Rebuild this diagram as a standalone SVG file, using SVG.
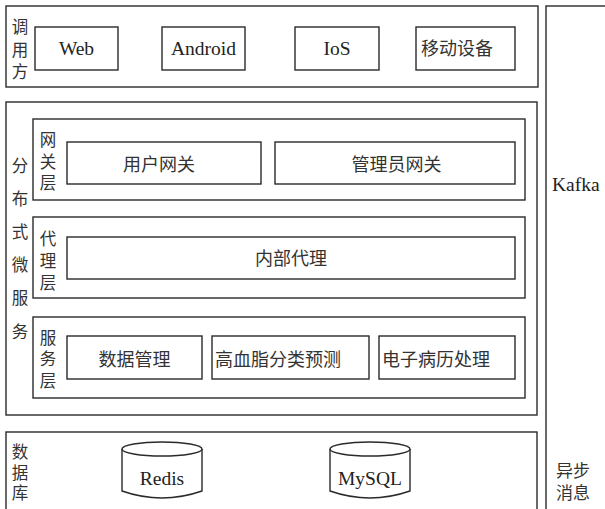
<svg xmlns="http://www.w3.org/2000/svg" width="605" height="509" viewBox="0 0 605 509">
<style>
rect, path, ellipse { fill: none; stroke: #2a2a2a; stroke-width: 1.4; }
.bg { fill: #ffffff; stroke: none; }
.lat { font-family: "Liberation Serif", "Times New Roman", serif; font-size: 19.5px; fill: #222; }
.cn { font-family: "Noto Sans CJK SC", "Noto Sans", sans-serif; font-size: 18px; fill: #333; }
.st { font-size: 16.5px; }
.c { text-anchor: middle; }
</style>
<rect class="bg" x="0" y="0" width="605" height="509"/>

<g id="caller">
  <rect x="6" y="6" width="532" height="81"/>
  <text class="cn st c" x="20" y="33">调</text>
  <text class="cn st c" x="20" y="56">用</text>
  <text class="cn st c" x="20" y="78">方</text>
</g>
<g id="web"><rect x="35" y="27" width="83" height="43"/><text class="lat c" x="76.5" y="55">Web</text></g>
<g id="android"><rect x="162" y="27" width="83" height="43"/><text class="lat c" x="203.5" y="55">Android</text></g>
<g id="ios"><rect x="295" y="27" width="84" height="43"/><text class="lat c" x="337" y="55">IoS</text></g>
<g id="mobile"><rect x="416" y="27" width="99" height="43"/><text class="cn" x="421" y="55">移动设备</text></g>

<g id="microservice">
  <rect x="6" y="102" width="531" height="313"/>
  <text class="cn st c" x="20" y="172">分</text>
  <text class="cn st c" x="20" y="205">布</text>
  <text class="cn st c" x="20" y="238">式</text>
  <text class="cn st c" x="20" y="271">微</text>
  <text class="cn st c" x="20" y="304">服</text>
  <text class="cn st c" x="20" y="338">务</text>
</g>

<g id="gateway-layer">
  <rect x="33" y="119" width="492" height="81"/>
  <text class="cn st c" x="48" y="146">网</text>
  <text class="cn st c" x="48" y="168">关</text>
  <text class="cn st c" x="48" y="189">层</text>
</g>
<g id="user-gateway"><rect x="67" y="142" width="194" height="42"/><text class="cn c" x="159" y="171">用户网关</text></g>
<g id="admin-gateway"><rect x="275" y="142" width="240" height="42"/><text class="cn c" x="396.5" y="171">管理员网关</text></g>

<g id="proxy-layer">
  <rect x="33" y="217" width="492" height="81"/>
  <text class="cn st c" x="48" y="245">代</text>
  <text class="cn st c" x="48" y="267">理</text>
  <text class="cn st c" x="48" y="289">层</text>
</g>
<g id="internal-proxy"><rect x="67" y="237" width="448" height="42"/><text class="cn c" x="291" y="265">内部代理</text></g>

<g id="service-layer">
  <rect x="33" y="317" width="492" height="81"/>
  <text class="cn st c" x="48" y="344">服</text>
  <text class="cn st c" x="48" y="365">务</text>
  <text class="cn st c" x="48" y="387">层</text>
</g>
<g id="data-mgmt"><rect x="67" y="336" width="135" height="43"/><text class="cn c" x="134.5" y="366">数据管理</text></g>
<g id="prediction"><rect x="212" y="336" width="157" height="43"/><text class="cn" x="215" y="366">高血脂分类预测</text></g>
<g id="emr"><rect x="379" y="336" width="136" height="43"/><text class="cn" x="382" y="366">电子病历处理</text></g>

<g id="database">
  <rect x="6" y="432" width="531" height="90"/>
  <text class="cn st c" x="20" y="458">数</text>
  <text class="cn st c" x="20" y="479">据</text>
  <text class="cn st c" x="20" y="499">库</text>
</g>
<g id="redis">
  <ellipse cx="162" cy="449" rx="40" ry="7"/>
  <path d="M122,449 V491 Q162,505 202,491 V449"/>
  <text class="lat c" x="162" y="485">Redis</text>
</g>
<g id="mysql">
  <ellipse cx="370" cy="449" rx="40" ry="7"/>
  <path d="M330,449 V491 Q370,505 410,491 V449"/>
  <text class="lat c" x="370" y="485">MySQL</text>
</g>

<g id="kafka">
  <rect x="546" y="6" width="70" height="520"/>
  <text class="lat" x="552" y="191">Kafka</text>
  <text class="cn" x="556" y="477" style="font-size:17px">异步</text>
  <text class="cn" x="556" y="499" style="font-size:17px">消息</text>
</g>

<g id="connectors"></g>
</svg>
